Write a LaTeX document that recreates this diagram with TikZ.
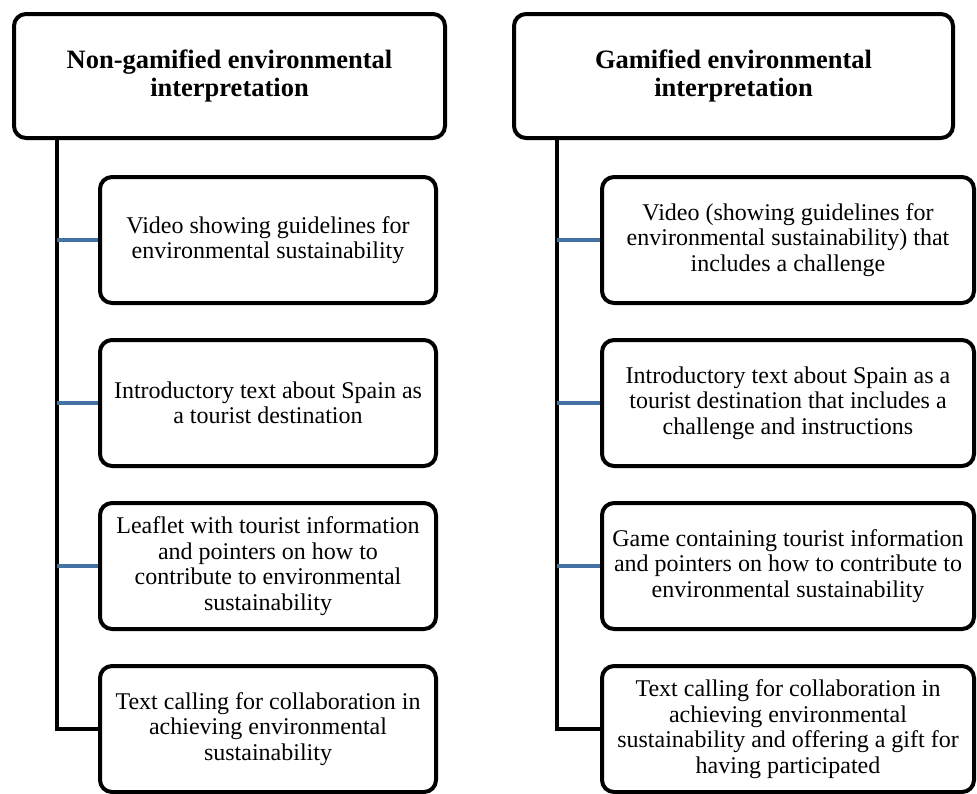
\documentclass[tikz,border=0pt]{standalone}
\usepackage{fontspec}
\setmainfont{Liberation Serif}
\usetikzlibrary{positioning}

\begin{document}
\begin{tikzpicture}[
    x=1pt, y=-1pt,
    head/.style={draw, line width=4pt, rounded corners=12pt, align=center, minimum height=124pt, font=\fontsize{26.5}{28}\selectfont\bfseries},
    item/.style={draw, line width=4pt, rounded corners=12pt, align=center, minimum height=126pt, inner xsep=4pt, font=\fontsize{24}{25.5}\selectfont},
    trunk/.style={line width=4pt},
    link/.style={line width=3.5pt, draw={rgb,255:red,68;green,114;blue,162}},
    node distance=33pt
  ]
  \useasboundingbox (0,0) rectangle (977,793);

  % left column
  \node[head, minimum width=431pt] (hl) at (229.5,76) {Non-gamified environmental\\interpretation};
  \node[item, minimum width=336pt] (l1) at (268,240) {Video showing guidelines for\\environmental sustainability};
  \node[item, minimum width=336pt, below=of l1] (l2) {Introductory text about Spain as\\a tourist destination};
  \node[item, minimum width=336pt, below=of l2] (l3) {Leaflet with tourist information\\and pointers on how to\\contribute to environmental\\sustainability};
  \node[item, minimum width=336pt, below=of l3] (l4) {Text calling for collaboration in\\achieving environmental\\sustainability};

  % right column
  \node[head, minimum width=439pt] (hr) at (733.5,76) {Gamified environmental\\interpretation};
  \node[item, minimum width=372pt] (r1) at (788,240) {Video (showing guidelines for\\environmental sustainability) that\\includes a challenge};
  \node[item, minimum width=372pt, below=of r1] (r2) {Introductory text about Spain as a\\tourist destination that includes a\\challenge and instructions};
  \node[item, minimum width=372pt, below=of r2] (r3) {Game containing tourist information\\and pointers on how to contribute to\\environmental sustainability};
  \node[item, minimum width=372pt, below=of r3] (r4) {Text calling for collaboration in\\achieving environmental\\sustainability and offering a gift for\\having participated};

  % connectors
  \coordinate (ltop) at (57,139);
  \coordinate (rtop) at (557,139);
  \draw[trunk] (ltop) |- (l4.west);
  \draw[trunk] (rtop) |- (r4.west);
  \foreach \i in {1,2,3} {
    \draw[link] (ltop |- l\i.west) -- (l\i.west);
    \draw[link] (rtop |- r\i.west) -- (r\i.west);
  }
\end{tikzpicture}
\end{document}
